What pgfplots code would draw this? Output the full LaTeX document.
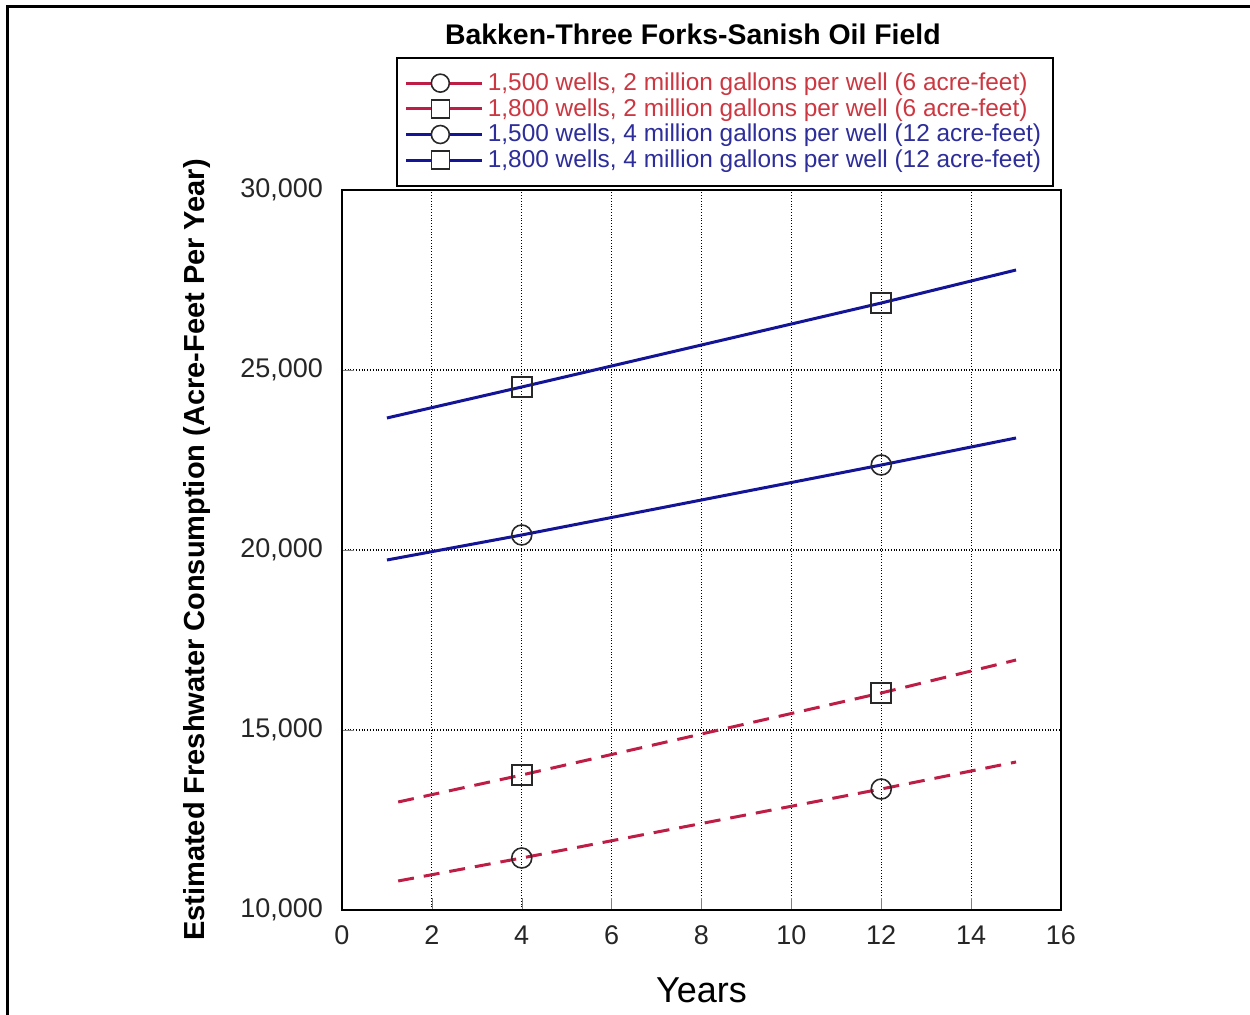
\documentclass[border=0pt]{standalone}
\usepackage{pgfplots}
\pgfplotsset{compat=1.18}
\usepackage{fontspec}
\setmainfont{Liberation Sans}
\definecolor{bl}{RGB}{20,20,150}
\definecolor{rd}{RGB}{190,30,70}
\definecolor{rdtxt}{RGB}{205,55,65}
\definecolor{bltxt}{RGB}{45,45,155}
\definecolor{mk}{RGB}{40,40,40}
\begin{document}
\begin{tikzpicture}
\useasboundingbox (0,0) rectangle (625pt,-507.5pt);
\draw[line width=1.5pt] (3.5pt,-520pt) -- (3.5pt,-3.5pt) -- (630pt,-3.5pt);
\begin{axis}[
  at={(171pt,-455pt)}, anchor=south west,
  scale only axis, width=359.5pt, height=360pt,
  xmin=0, xmax=16, ymin=10000, ymax=30000,
  xtick={0,2,...,16}, ytick={10000,15000,...,30000},
  scaled y ticks=false,
  /pgf/number format/1000 sep={,},
  /pgf/number format/assume math mode=true,
  tick label style={font=\fontsize{13.5}{16}\selectfont, text=black!85},
  xticklabel style={yshift=-4.5pt},
  yticklabel style={xshift=-6pt},
  tick pos=left, tick align=inside, major tick length=6pt,
  axis line style={line width=1pt},
  grid=major, major grid style={densely dotted, black, line width=0.6pt},
  title={Bakken-Three Forks-Sanish Oil Field},
  title style={at={(axis description cs:0.488,1.2)}, anchor=center, font=\bfseries\fontsize{14.2}{17}\selectfont},
  xlabel={Years},
  xlabel style={at={(axis description cs:0.5,-0.111)}, anchor=center, font=\fontsize{18}{21}\selectfont},
  ylabel={Estimated Freshwater Consumption (Acre-Feet Per Year)},
  ylabel style={at={(axis description cs:-0.2017,0.5)}, anchor=center, font=\bfseries\fontsize{14.5}{17}\selectfont},
  legend style={at={(axis description cs:0.5327,1.185)}, anchor=north, draw=black, line width=1pt,
    font=\fontsize{12.2}{14}\selectfont, inner xsep=4pt, inner ysep=5.5pt, row sep=-1.5pt},
  legend cell align=left,
  mark options={solid, draw=mk, fill=none, line width=0.8pt},
]
\addlegendimage{rd, line width=1.5pt, legend image code/.code={
  \path (0pt,0pt) -- (38pt,0pt);
  \draw[rd, line width=1.5pt] (8pt,0pt) -- (34pt,0pt);
  \draw[mk, line width=0.8pt, fill=white] (17pt,0pt) circle (4.5pt);}}
\addlegendimage{rd, line width=1.5pt, legend image code/.code={
  \path (0pt,0pt) -- (38pt,0pt);
  \draw[rd, line width=1.5pt] (8pt,0pt) -- (34pt,0pt);
  \draw[mk, line width=0.8pt, fill=white] (12.5pt,-4.5pt) rectangle (21.5pt,4.5pt);}}
\addlegendimage{bl, line width=1.5pt, legend image code/.code={
  \draw[bl, line width=1.5pt] (0pt,0pt) -- (38pt,0pt);
  \draw[mk, line width=0.8pt, fill=white] (17pt,0pt) circle (4.5pt);}}
\addlegendimage{bl, line width=1.5pt, legend image code/.code={
  \draw[bl, line width=1.5pt] (0pt,0pt) -- (38pt,0pt);
  \draw[mk, line width=0.8pt, fill=white] (12.5pt,-4.5pt) rectangle (21.5pt,4.5pt);}}
\addplot[rd, line width=1.5pt, dash pattern=on 8pt off 5pt, mark=o, mark size=5pt, mark indices={2,3}]
  coordinates {(1.25,10806) (4,11444) (12,13361) (15,14111)};
\addplot[rd, line width=1.5pt, dash pattern=on 8pt off 5pt, mark=square, mark size=5pt, mark indices={2,3}]
  coordinates {(1.25,13000) (4,13750) (12,16028) (15,16944)};
\addplot[bl, line width=1.5pt, mark=o, mark size=5pt, mark indices={2,3}]
  coordinates {(1,19722) (4,20417) (12,22361) (15,23111)};
\addplot[bl, line width=1.5pt, mark=square, mark size=5pt, mark indices={2,3}]
  coordinates {(1,23667) (4,24528) (12,26861) (15,27778)};
\legend{\textcolor{rdtxt}{1,500 wells, 2 million gallons per well (6 acre-feet)},
  \textcolor{rdtxt}{1,800 wells, 2 million gallons per well (6 acre-feet)},
  \textcolor{bltxt}{1,500 wells, 4 million gallons per well (12 acre-feet)},
  \textcolor{bltxt}{1,800 wells, 4 million gallons per well (12 acre-feet)}}
\end{axis}
\end{tikzpicture}
\end{document}
